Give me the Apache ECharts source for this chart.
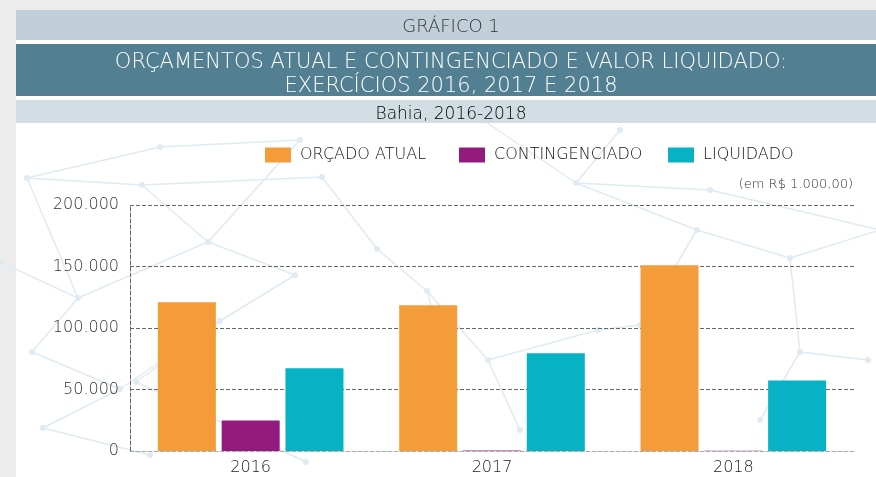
<!DOCTYPE html>
<html>
<head>
<meta charset="utf-8">
<script src="https://cdn.jsdelivr.net/npm/echarts@6/dist/echarts.min.js"></script>
<style>
  html, body { margin: 0; padding: 0; background: #ececec; }
  #chart1 { width: 876px; height: 477px; }
</style>
</head>
<body>
<div id="chart1"></div>
<script>
// dados (em R$ 1.000,00)
var anos = ['2016', '2017', '2018'];
var orcadoAtual = [121000, 118500, 151100];
var contingenciado = [24800, 400, 300];
var liquidado = [67200, 79400, 57400];
var yTicks = [0, 50000, 100000, 150000, 200000];

var nomes = ['ORÇADO ATUAL', 'CONTINGENCIADO', 'LIQUIDADO'];
var cores = ['#f39c39', '#931b7d', '#07b2c4'];

//formata numero com ponto de milhar
function fmt(v) {
    return String(v).replace(/\B(?=(\d{3})+(?!\d))/g, '.');
}

//rede decorativa de fundo
var nos = [
    [27, 178], [160, 147], [300, 140], [142, 185], [322, 177], [208, 242],
    [295, 275], [78, 298], [0, 262], [120, 389], [32, 352], [43, 428],
    [220, 321], [136, 382], [306, 462], [377, 249], [427, 291], [488, 360],
    [440, 337], [576, 183], [710, 190], [480, 118], [697, 230], [790, 258],
    [640, 325], [598, 330], [800, 352], [868, 360], [760, 420], [520, 430],
    [880, 230], [620, 130], [150, 455]
];
var arestas = [
    [0, 1], [1, 2], [0, 3], [3, 4], [3, 5], [5, 6], [5, 7], [7, 8], [0, 7],
    [7, 10], [10, 9], [9, 11], [9, 12], [12, 6], [13, 12], [13, 14], [5, 2],
    [15, 16], [16, 17], [16, 18], [19, 20], [19, 21], [19, 22], [22, 23],
    [22, 24], [24, 25], [23, 26], [26, 27], [23, 30], [19, 31], [25, 17],
    [26, 28], [29, 17], [15, 4], [11, 32], [20, 30]
];
var rede = [];
arestas.forEach(function (a) {
    rede.push({
        type: 'line', z: -10, silent: true,
        shape: { x1: nos[a[0]][0], y1: nos[a[0]][1], x2: nos[a[1]][0], y2: nos[a[1]][1] },
        style: { stroke: '#dfebf2', lineWidth: 1.5 }
    });
});
nos.forEach(function (n) {
    rede.push({
        type: 'circle', z: -10, silent: true,
        shape: { cx: n[0], cy: n[1], r: 3 },
        style: { fill: '#dfebf2' }
    });
});

var chart = echarts.init(document.getElementById('chart1'));

var fonte = 'DejaVu Sans';

var option = {
    backgroundColor: '#ececec',
    animation: false,
    textStyle: { fontFamily: fonte, fontWeight: 300 },
    title: [
        {
            text: 'GRÁFICO 1', left: 446, top: 13, textAlign: 'center',
            textStyle: { fontFamily: fonte, fontSize: 18, fontWeight: 300, color: '#333' }
        },
        {
            text: 'ORÇAMENTOS ATUAL E CONTINGENCIADO E VALOR LIQUIDADO:\nEXERCÍCIOS 2016, 2017 E 2018',
            left: 446, top: 46, textAlign: 'center',
            textStyle: { fontFamily: fonte, fontSize: 21, fontWeight: 300, color: '#fff', lineHeight: 24 }
        },
        {
            text: 'Bahia, 2016-2018', left: 446, top: 101, textAlign: 'center',
            textStyle: { fontFamily: fonte, fontSize: 17, fontWeight: 300, color: '#000' }
        },
        {
            text: '(em R$ 1.000,00)', right: 18, top: 173,
            textStyle: { fontFamily: fonte, fontSize: 13, fontWeight: 300, color: '#333' }
        }
    ],
    graphic: rede.concat([
        { type: 'rect', z: -20, silent: true, shape: { x: 16, y: 10, width: 860, height: 467 }, style: { fill: '#fff' } },
        { type: 'rect', z: -5, silent: true, shape: { x: 16, y: 10, width: 860, height: 30 }, style: { fill: '#c1cfd9' } },
        { type: 'rect', z: -5, silent: true, shape: { x: 16, y: 44, width: 860, height: 52 }, style: { fill: '#537f93' } },
        { type: 'rect', z: -5, silent: true, shape: { x: 16, y: 100, width: 860, height: 23 }, style: { fill: '#d1dce3' } }
    ]),
    legend: [0, 1, 2].map(function (i) {
        return {
            data: [nomes[i]],
            left: [260, 454, 663][i], top: 142,
            itemWidth: 26, itemHeight: 15,
            icon: 'rect',
            textStyle: { fontFamily: fonte, fontSize: 16, fontWeight: 300, color: '#111', padding: [0, 0, 0, 4] }
        };
    }),
    grid: { left: 130, right: 22, top: 205, bottom: 26 },
    xAxis: {
        type: 'category',
        data: anos,
        axisTick: { show: false },
        axisLine: { lineStyle: { color: '#aaa', type: 'dashed' } },
        axisLabel: { fontFamily: fonte, fontSize: 16, fontWeight: 300, color: '#222', margin: 9 }
    },
    yAxis: {
        type: 'value',
        min: yTicks[0],
        max: yTicks[yTicks.length - 1],
        interval: 50000,
        axisLine: { show: true, lineStyle: { color: '#666', type: 'dashed' } },
        axisTick: { show: false },
        axisLabel: {
            fontFamily: fonte, fontSize: 16, fontWeight: 300, color: '#333', margin: 11,
            padding: [7, 0, 0, 0], formatter: fmt
        },
        splitLine: { lineStyle: { color: '#666', type: 'dashed' } }
    },
    series: [orcadoAtual, contingenciado, liquidado].map(function (d, i) {
        return {
            name: nomes[i],
            type: 'bar',
            data: d,
            barWidth: 58,
            barGap: '10%',
            itemStyle: { color: cores[i] }
        };
    })
};

chart.setOption(option);
</script>
</body>
</html>
